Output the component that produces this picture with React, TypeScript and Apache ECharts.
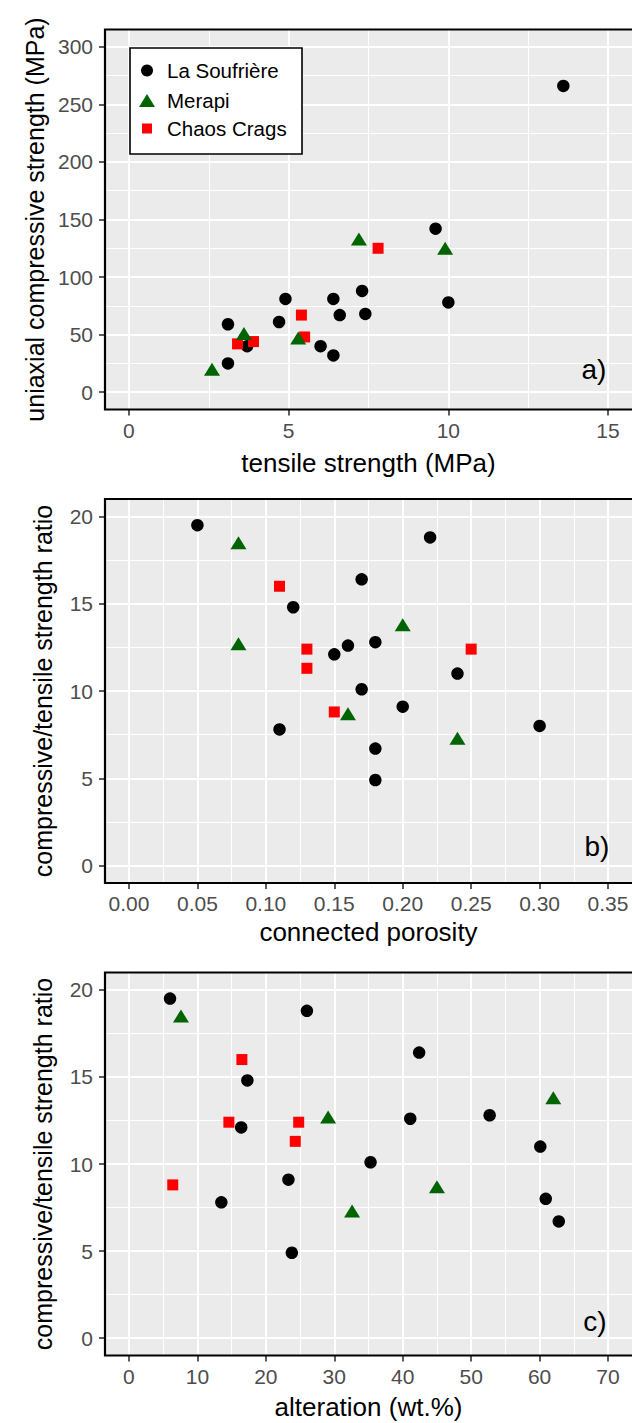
import React, { useEffect, useRef } from "react";
import * as echarts from "echarts";

const FONT = "'Liberation Sans', Arial, Helvetica, sans-serif";

const NAME_SOUF = "La Soufrière";
const NAME_MERAPI = "Merapi";
const NAME_CHAOS = "Chaos Crags";

// Panel a: tensile strength (MPa) vs uniaxial compressive strength (MPa)
const soufTensile = [13.6, 9.6, 10.0, 7.3, 7.4, 6.4, 6.6, 4.9, 4.7, 3.1, 3.1, 3.7, 6.0, 6.4];
const soufUCS = [266, 142, 78, 88, 68, 81, 67, 81, 61, 59, 25, 40, 40, 32];
const merapiTensile = [7.2, 9.9, 3.6, 5.3, 2.6];
const merapiUCS = [133, 125, 51, 47, 20];
const chaosTensile = [7.8, 5.4, 5.5, 3.4, 3.9];
const chaosUCS = [125, 67, 48, 42, 44];

// Panels b and c: compressive/tensile strength ratio
const soufRatio = [19.5, 18.8, 16.4, 14.8, 12.6, 12.8, 12.1, 11.0, 10.1, 9.1, 8.0, 7.8, 6.7, 4.9];
const soufPorosity = [0.05, 0.22, 0.17, 0.12, 0.16, 0.18, 0.15, 0.24, 0.17, 0.2, 0.3, 0.11, 0.18, 0.18];
const soufAlteration = [6.0, 26.0, 42.4, 17.3, 41.1, 52.7, 16.4, 60.1, 35.3, 23.3, 60.9, 13.5, 62.8, 23.8];

const merapiRatio = [18.5, 12.7, 13.8, 8.7, 7.3];
const merapiPorosity = [0.08, 0.08, 0.2, 0.16, 0.24];
const merapiAlteration = [7.6, 29.1, 62.0, 45.0, 32.6];

const chaosRatio = [16.0, 12.4, 12.4, 11.3, 8.8];
const chaosPorosity = [0.11, 0.13, 0.25, 0.13, 0.15];
const chaosAlteration = [16.5, 14.6, 24.8, 24.3, 6.4];

// Tick values
const ticksA_x = [0, 5, 10, 15];
const minorA_x = [2.5, 7.5, 12.5];
const ticksA_y = [0, 50, 100, 150, 200, 250, 300];
const minorA_y = [25, 75, 125, 175, 225, 275];
const ticksB_x = [0, 0.05, 0.1, 0.15, 0.2, 0.25, 0.3, 0.35];
const minorB_x = [0.025, 0.075, 0.125, 0.175, 0.225, 0.275, 0.325];
const ticksC_x = [0, 10, 20, 30, 40, 50, 60, 70];
const minorC_x = [5, 15, 25, 35, 45, 55, 65];
const ticksRatio = [0, 5, 10, 15, 20];
const minorRatio = [2.5, 7.5, 12.5, 17.5];

const GRIDS = [
  { left: 105, top: 29.5, width: 529, height: 380 },
  { left: 105, top: 499, width: 529, height: 384 },
  { left: 105, top: 972.5, width: 529, height: 383 },
];

const zip = (xs: number[], ys: number[]) => xs.map((x, i) => [x, ys[i]]);

function majorAxis(
  gridIndex: number,
  dim: "x" | "y",
  min: number,
  max: number,
  ticks: number[],
  fmt: (v: number) => string,
  name: string,
  nameGap: number
) {
  return {
    type: "value",
    gridIndex,
    min,
    max,
    position: dim === "x" ? "bottom" : "left",
    name,
    nameLocation: "middle",
    nameGap,
    nameTextStyle: { fontFamily: FONT, fontSize: dim === "x" ? 26 : 25, color: "#000" },
    axisLine: { show: false, onZero: false },
    axisTick: {
      show: true,
      customValues: ticks,
      length: 6,
      lineStyle: { color: "#333", width: 1.6 },
    },
    axisLabel: {
      show: true,
      customValues: ticks,
      formatter: fmt,
      fontFamily: FONT,
      fontSize: 21,
      color: "#4d4d4d",
      margin: dim === "x" ? 10 : 12,
    },
    splitLine: { show: true, lineStyle: { color: "#ffffff", width: 2 } },
  };
}

function minorAxis(gridIndex: number, dim: "x" | "y", min: number, max: number, ticks: number[]) {
  return {
    type: "value",
    gridIndex,
    min,
    max,
    position: dim === "x" ? "bottom" : "left",
    axisLine: { show: false, onZero: false },
    axisTick: { show: false, customValues: ticks },
    axisLabel: { show: false, customValues: ticks },
    splitLine: { show: true, lineStyle: { color: "#ffffff", width: 1 } },
  };
}

const intFmt = (v: number) => String(v);
const fix2 = (v: number) => v.toFixed(2);

function scatterSeries(gridIdx: number, souf: number[][], merapi: number[][], chaos: number[][]) {
  const xi = gridIdx * 2;
  const yi = gridIdx * 2;
  return [
    {
      type: "scatter",
      name: NAME_SOUF,
      xAxisIndex: xi,
      yAxisIndex: yi,
      data: souf,
      symbol: "circle",
      symbolSize: 12.5,
      itemStyle: { color: "#000000", opacity: 1 },
      z: 2,
    },
    {
      type: "scatter",
      name: NAME_CHAOS,
      xAxisIndex: xi,
      yAxisIndex: yi,
      data: chaos,
      symbol: "rect",
      symbolSize: 11,
      itemStyle: { color: "#ff0000", opacity: 1 },
      z: 3,
    },
    {
      type: "scatter",
      name: NAME_MERAPI,
      xAxisIndex: xi,
      yAxisIndex: yi,
      data: merapi,
      symbol: "triangle",
      symbolSize: [16, 13],
      itemStyle: { color: "#006400", opacity: 1 },
      z: 4,
    },
  ];
}

function legendItem(
  name: string,
  icon: string,
  color: string,
  left: number,
  top: number,
  w: number,
  h: number,
  pad: number
) {
  return {
    show: true,
    left,
    top,
    orient: "vertical",
    padding: 0,
    itemWidth: w,
    itemHeight: h,
    selectedMode: false,
    data: [{ name, icon, itemStyle: { color, opacity: 1 } }],
    textStyle: {
      fontFamily: FONT,
      fontSize: 20.5,
      color: "#000",
      padding: [0, 0, 0, pad],
    },
    z: 10,
  };
}

export default function App() {
  const ref = useRef<HTMLDivElement>(null);

  useEffect(() => {
    if (!ref.current) return;
    const chart = echarts.init(ref.current, undefined, { renderer: "svg" });

    const xAxis = [
      majorAxis(0, "x", -0.75, 15.75, ticksA_x, intFmt, "tensile strength (MPa)", 40),
      minorAxis(0, "x", -0.75, 15.75, minorA_x),
      majorAxis(1, "x", -0.0175, 0.3675, ticksB_x, fix2, "connected porosity", 36),
      minorAxis(1, "x", -0.0175, 0.3675, minorB_x),
      majorAxis(2, "x", -3.5, 73.5, ticksC_x, intFmt, "alteration (wt.%)", 38),
      minorAxis(2, "x", -3.5, 73.5, minorC_x),
    ];
    const yAxis = [
      majorAxis(0, "y", -15, 315, ticksA_y, intFmt, "uniaxial compressive strength (MPa)", 58),
      minorAxis(0, "y", -15, 315, minorA_y),
      majorAxis(1, "y", -1, 21, ticksRatio, intFmt, "compressive/tensile strength ratio", 50),
      minorAxis(1, "y", -1, 21, minorRatio),
      majorAxis(2, "y", -1, 21, ticksRatio, intFmt, "compressive/tensile strength ratio", 50),
      minorAxis(2, "y", -1, 21, minorRatio),
    ];

    const series = [
      ...scatterSeries(0, zip(soufTensile, soufUCS), zip(merapiTensile, merapiUCS), zip(chaosTensile, chaosUCS)),
      ...scatterSeries(1, zip(soufPorosity, soufRatio), zip(merapiPorosity, merapiRatio), zip(chaosPorosity, chaosRatio)),
      ...scatterSeries(2, zip(soufAlteration, soufRatio), zip(merapiAlteration, merapiRatio), zip(chaosAlteration, chaosRatio)),
    ];

    const borders = GRIDS.map((g) => ({
      type: "rect",
      silent: true,
      z: 20,
      shape: { x: g.left, y: g.top, width: g.width, height: g.height },
      style: { fill: "none", stroke: "#000", lineWidth: 2.2 },
    }));

    const panelLabels = [
      { text: "a)", x: 594, y: 369 },
      { text: "b)", x: 597, y: 846 },
      { text: "c)", x: 595, y: 1321 },
    ].map((p) => ({
      type: "text",
      silent: true,
      z: 20,
      x: p.x,
      y: p.y,
      style: {
        text: p.text,
        fill: "#000",
        fontFamily: FONT,
        fontSize: 28,
        textAlign: "center",
        textVerticalAlign: "middle",
        align: "center",
        verticalAlign: "middle",
      },
    }));

    const legendBox = {
      type: "rect",
      silent: true,
      z: 5,
      shape: { x: 130, y: 48, width: 172, height: 106 },
      style: { fill: "#ffffff", stroke: "#000", lineWidth: 1.6 },
    };

    chart.setOption({
      animation: false,
      backgroundColor: "#ffffff",
      textStyle: { fontFamily: FONT },
      grid: GRIDS.map((g) => ({
        ...g,
        show: true,
        backgroundColor: "#ebebeb",
        borderWidth: 0,
        containLabel: false,
      })),
      xAxis,
      yAxis,
      legend: [
        legendItem(NAME_SOUF, "circle", "#000000", 141, 60, 12, 12, 9),
        legendItem(NAME_MERAPI, "triangle", "#006400", 139, 90, 16, 13, 7),
        legendItem(NAME_CHAOS, "rect", "#ff0000", 142, 118, 10, 10, 10),
      ],
      graphic: { elements: [...borders, legendBox, ...panelLabels] },
      series,
    });

    return () => chart.dispose();
  }, []);

  return (
    <div
      ref={ref}
      style={{ position: "absolute", left: 0, top: 0, width: 632, height: 1423 }}
    />
  );
}
